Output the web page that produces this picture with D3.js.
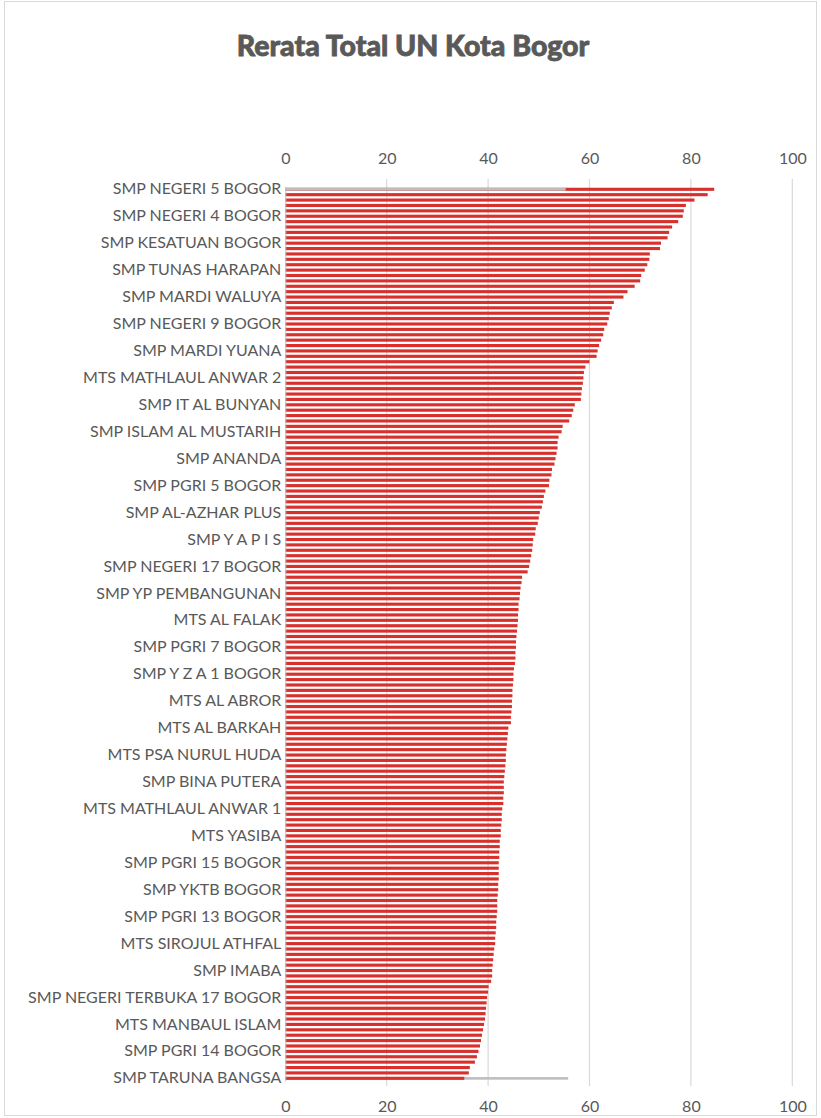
<!DOCTYPE html>
<html>
<head>
<meta charset="utf-8">
<script src="https://cdn.jsdelivr.net/npm/d3@7"></script>
<style>
body { margin: 0; background: #fff; }
</style>
</head>
<body>
<div class="content"></div>
<script>
// nama sekolah yang tampil di sumbu (tiap kategori ke-5)
var sekolahLabel = ["SMP NEGERI 5 BOGOR", "SMP NEGERI 4 BOGOR", "SMP KESATUAN BOGOR", "SMP TUNAS HARAPAN",
	"SMP MARDI WALUYA", "SMP NEGERI 9 BOGOR", "SMP MARDI YUANA", "MTS MATHLAUL ANWAR 2", "SMP IT AL BUNYAN",
	"SMP ISLAM AL MUSTARIH", "SMP ANANDA", "SMP PGRI 5 BOGOR", "SMP AL-AZHAR PLUS", "SMP Y A P I S",
	"SMP NEGERI 17 BOGOR", "SMP YP PEMBANGUNAN", "MTS AL FALAK", "SMP PGRI 7 BOGOR", "SMP Y Z A 1 BOGOR",
	"MTS AL ABROR", "MTS AL BARKAH", "MTS PSA NURUL HUDA", "SMP BINA PUTERA", "MTS MATHLAUL ANWAR 1",
	"MTS YASIBA", "SMP PGRI 15 BOGOR", "SMP YKTB BOGOR", "SMP PGRI 13 BOGOR", "MTS SIROJUL ATHFAL",
	"SMP IMABA", "SMP NEGERI TERBUKA 17 BOGOR", "MTS MANBAUL ISLAM", "SMP PGRI 14 BOGOR", "SMP TARUNA BANGSA"];
var labelStep = 5;

// rerata total UN per sekolah (166 sekolah, urut dari atas)
var rerata = [84.6, 83.3, 80.7, 79.0, 78.6, 78.4, 77.5, 76.3, 75.7, 75.4, 74.1, 73.9, 71.9, 71.8, 71.4, 70.9,
	70.2, 70.0, 68.9, 67.5, 66.7, 64.8, 64.4, 64.0, 63.8, 63.5, 62.9,
	62.7, 62.3, 61.9, 61.6, 61.4, 60.0, 59.2, 58.9, 58.8, 58.7, 58.5, 58.4, 58.3, 57.1, 56.8, 56.5, 56.0,
	54.7, 54.5, 53.9, 53.7, 53.7, 53.5, 53.3, 53.1, 52.6, 52.5,
	52.1, 52.0, 51.3, 51.0, 50.8, 50.6, 50.2, 50.0, 49.8, 49.4, 49.3, 48.9, 48.8, 48.7, 48.5, 48.3, 48.1,
	47.8, 46.7, 46.6, 46.4, 46.3, 46.2, 46.0, 46.0, 45.9, 45.9,
	45.8, 45.7, 45.6, 45.5, 45.5, 45.4, 45.4, 45.3, 45.1, 45.0, 45.0, 44.9, 44.8, 44.8, 44.7, 44.7, 44.6,
	44.5, 44.5, 44.0, 43.9, 43.8, 43.7, 43.6, 43.5, 43.5, 43.4,
	43.3, 43.2, 43.1, 43.1, 43.1, 43.0, 43.0, 42.8, 42.7, 42.7, 42.6, 42.5, 42.5, 42.3, 42.3, 42.2, 42.2,
	42.1, 42.1, 42.1, 42.1, 42.0, 42.0, 41.9, 41.8, 41.8, 41.8,
	41.7, 41.6, 41.6, 41.5, 41.4, 41.4, 41.2, 41.1, 41.0, 40.9, 40.8, 40.8, 40.6, 40.1, 40.0, 39.8, 39.7,
	39.6, 39.5, 39.4, 39.2, 39.0, 38.8, 38.6, 38.4, 38.1, 37.8, 37.4, 36.4, 36.2, 35.3];

// batang abu-abu (rerata kota) di kategori pertama dan terakhir
var abuIndex = [0, 165];
var abuNilai = [55.3, 55.8];

var xTicks = [0, 20, 40, 60, 80, 100];

var width = 821;
var height = 1118;
var plotL = 285.3, plotR = 792.3, plotT = 186.6, plotB = 1081;
var grey = "#595959";

var svg = d3.select(".content").append("svg").attr("width", width).attr("height", height)
	.style("font-family", "Lato, 'Open Sans', sans-serif");

svg.append("rect").attr("x", 4.5).attr("y", 1.5).attr("width", 812).attr("height", 1114)
	.attr("fill", "#fff").attr("stroke", "#d9d9d9");

svg.append("text").attr("x", 413).attr("y", 56).attr("text-anchor", "middle")
	.attr("font-size", 28.5).attr("font-weight", 900).attr("fill", grey)
	.style("stroke", grey).style("stroke-width", 0.8)
	.text("Rerata Total UN Kota Bogor");

var idx = d3.range(rerata.length);
var x = d3.scaleLinear().domain([0, 100]).range([plotL, plotR]);
var y = d3.scaleBand().domain(idx).range([plotT, plotB]).paddingInner(0.42).paddingOuter(0.21);

// garis kisi
svg.append("g").selectAll("line").data(xTicks.slice(1)).enter().append("line")
	.attr("x1", function(d){ return x(d); }).attr("x2", function(d){ return x(d); })
	.attr("y1", 179).attr("y2", 1086).attr("stroke", "#d9d9d9").attr("stroke-width", 1.2);

// sumbu atas dan bawah
var axTop = svg.append("g").attr("transform", "translate(0,170)")
	.call(d3.axisTop(x).tickValues(xTicks).tickSize(0).tickPadding(6));
var axBot = svg.append("g").attr("transform", "translate(0,1097)")
	.call(d3.axisBottom(x).tickValues(xTicks).tickSize(0).tickPadding(4));
[axTop, axBot].forEach(function(a){
	a.select(".domain").remove();
	a.selectAll("text").attr("font-size", 16).attr("fill", grey).style("font-family", "Lato, sans-serif");
});

function abuBar(g, i) {
	g.append("rect").attr("x", x(0)).attr("y", y(abuIndex[i]) + 0.3)
		.attr("width", x(abuNilai[i]) - x(0)).attr("height", y.bandwidth() * 0.85)
		.attr("fill", "#bfbfbf");
}

// abu-abu bawah ada di belakang batang merah
abuBar(svg.append("g"), 1);

// batang
svg.append("g").selectAll("rect").data(rerata).enter().append("rect")
	.attr("x", x(0)).attr("y", function(d, i){ return y(i); })
	.attr("width", function(d){ return x(d) - x(0); }).attr("height", y.bandwidth())
	.attr("fill", "#d8312d");

// abu-abu atas menutupi batang merah pertama
abuBar(svg.append("g"), 0);

// sumbu kategori
var axY = svg.append("g").attr("transform", "translate(" + plotL + ",0)")
	.call(d3.axisLeft(y).tickValues(idx.filter(function(i){ return i % labelStep == 0; }))
		.tickFormat(function(i){ return sekolahLabel[i / labelStep]; }).tickSize(0).tickPadding(4));
axY.select(".domain").attr("stroke", "#bfbfbf");
axY.selectAll("text").attr("font-size", 16).attr("fill", grey).style("font-family", "Lato, sans-serif");
</script>
</body>
</html>
